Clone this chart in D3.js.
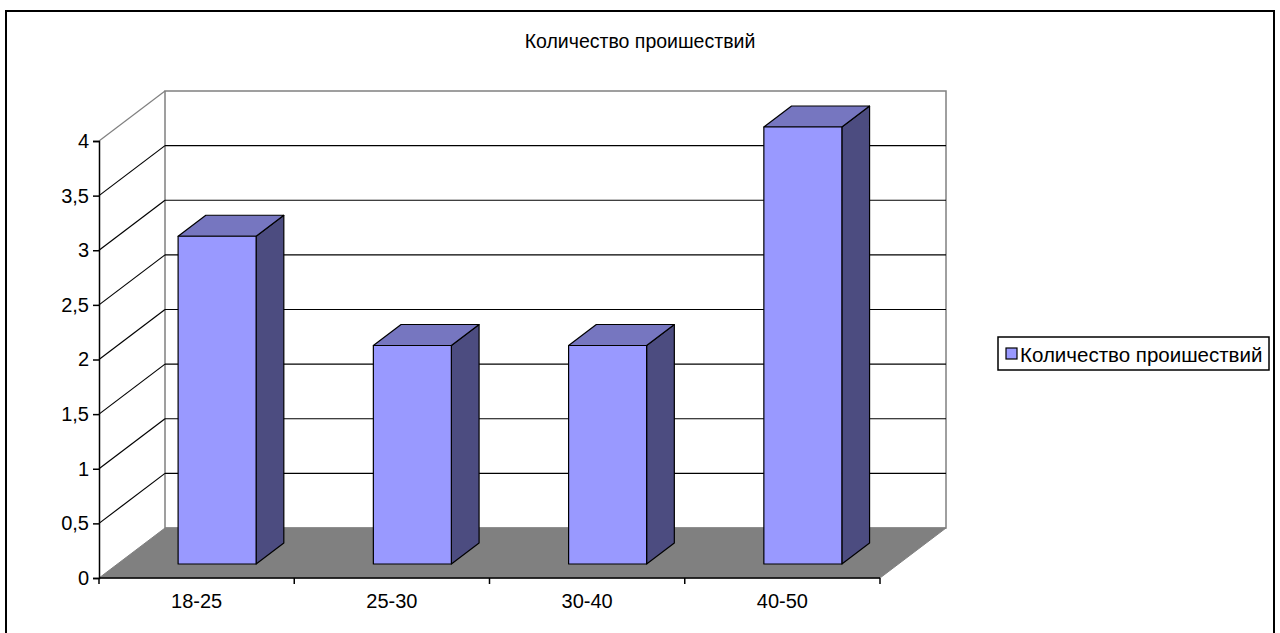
<!DOCTYPE html>
<html><head><meta charset="utf-8">
<script src="https://cdn.jsdelivr.net/npm/d3@7"></script>
<style>body{margin:0;background:#fff}svg{display:block}text{font-family:"Liberation Sans",Arial,sans-serif;fill:#000}</style>
</head><body>
<svg id="c" width="1280" height="633"></svg>
<script>
const categories = ["18-25", "25-30", "30-40", "40-50"];
const values = [3, 2, 2, 4];
const yTicks = [0, 0.5, 1, 1.5, 2, 2.5, 3, 3.5, 4];
const seriesName = "Количество проишествий";
const title = "Количество проишествий";

const svg = d3.select("#c");
svg.append("rect").attr("x", 6).attr("y", 11).attr("width", 1268).attr("height", 640)
  .attr("fill", "#fff").attr("stroke", "#000").attr("stroke-width", 2);

const x0 = 99, x1 = 880, yB = 578, yT = 141;
const DX = 66, DY = -50;
const y = d3.scaleLinear().domain([0, 4]).range([yB, yT]);
const x = d3.scaleBand().domain(categories).range([x0, x1]).paddingInner(0).paddingOuter(0);
const P = (px, py, t) => [px + DX * t, py + DY * t];

const g = svg.append("g");
g.append("rect").attr("x", x0 + DX).attr("y", y(4) + DY).attr("width", x1 - x0).attr("height", y(0) - y(4))
  .attr("fill", "#fff").attr("stroke", "#808080").attr("stroke-width", 1.5);
yTicks.filter(v => v > 0).forEach(v => {
  const yy = y(v);
  if (v < 4) {
    g.append("line").attr("x1", x0 + DX).attr("x2", x1 + DX).attr("y1", yy + DY).attr("y2", yy + DY)
      .attr("stroke", "#000").attr("stroke-width", 1.2);
  }
  g.append("line").attr("x1", x0).attr("y1", yy).attr("x2", x0 + DX).attr("y2", yy + DY)
    .attr("stroke", v === 4 ? "#808080" : "#000").attr("stroke-width", 1.2);
});
const floor = [P(x0, yB, 0), P(x1, yB, 0), P(x1, yB, 1), P(x0, yB, 1)];
g.append("polygon").attr("points", floor.map(p => p.join(",")).join(" "))
  .attr("fill", "#808080").attr("stroke", "#808080").attr("stroke-width", 1);

const bw = 78, t0 = 0.28, t1 = 0.7;
categories.forEach((c, i) => {
  const cx = x(c) + x.bandwidth() / 2 + 2;
  const L = cx - bw / 2, R = cx + bw / 2;
  const yt = y(values[i]);
  const front = [P(L, yB, t0), P(R, yB, t0), P(R, yt, t0), P(L, yt, t0)];
  const side = [P(R, yB, t0), P(R, yB, t1), P(R, yt, t1), P(R, yt, t0)];
  const top = [P(L, yt, t0), P(R, yt, t0), P(R, yt, t1), P(L, yt, t1)];
  const poly = (pts, fill) => g.append("polygon").attr("points", pts.map(p => p.join(",")).join(" "))
    .attr("fill", fill).attr("stroke", "#000").attr("stroke-width", 1.2).attr("stroke-linejoin", "round");
  poly(side, "#4C4C80");
  poly(top, "#7676C0");
  poly(front, "#9999FF");
});

const yAxis = d3.axisLeft(y).tickValues(yTicks).tickSize(6).tickPadding(4)
  .tickFormat(d => String(d).replace(".", ","));
const ya = svg.append("g").attr("transform", `translate(${x0},0)`).call(yAxis);
ya.select(".domain").attr("stroke", "#000").attr("stroke-width", 1.5);
ya.selectAll(".tick line").attr("stroke", "#000").attr("stroke-width", 1.5);
ya.selectAll("text").attr("font-size", 20).attr("font-family", "Liberation Sans, Arial, sans-serif").attr("fill", "#000");

const xa = svg.append("g").attr("transform", `translate(0,${yB})`);
xa.append("line").attr("x1", x0).attr("x2", x1).attr("stroke", "#000").attr("stroke-width", 1.5);
d3.range(categories.length + 1).forEach(i => {
  const xx = x0 + i * x.step();
  xa.append("line").attr("x1", xx).attr("x2", xx).attr("y1", 0).attr("y2", 6).attr("stroke", "#000").attr("stroke-width", 1.5);
});
categories.forEach(c => {
  xa.append("text").attr("x", x(c) + x.bandwidth() / 2).attr("y", 30).attr("text-anchor", "middle")
    .attr("font-size", 20).text(c);
});

svg.append("text").attr("x", 640).attr("y", 48).attr("text-anchor", "middle").attr("font-size", 19.5).text(title);

const lg = svg.append("g");
lg.append("rect").attr("x", 998).attr("y", 337).attr("width", 271).attr("height", 33)
  .attr("fill", "#fff").attr("stroke", "#000").attr("stroke-width", 1.5);
lg.append("rect").attr("x", 1006).attr("y", 348).attr("width", 11).attr("height", 11)
  .attr("fill", "#9999FF").attr("stroke", "#000").attr("stroke-width", 1.2);
lg.append("text").attr("x", 1020).attr("y", 362).attr("font-size", 20.5).text(seriesName);
</script>
</body></html>
